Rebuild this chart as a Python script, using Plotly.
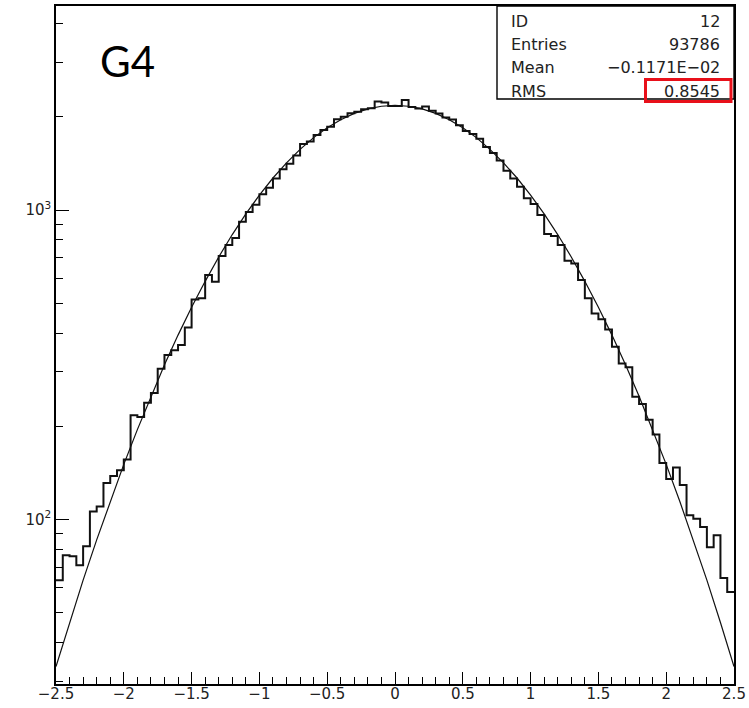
import numpy as np
import plotly.graph_objects as go

# Histogram definition: 100 bins between -2.5 and 2.5
X_MIN, X_MAX, N_BINS = -2.5, 2.5, 100

counts = [
    63.5, 76.5, 76, 71, 81.8, 106, 110, 131, 138, 144,
    156, 217, 214, 238, 256, 307, 340, 352, 366, 417,
    514, 518, 616, 586, 710, 770, 812, 917, 985, 1040,
    1125, 1180, 1265, 1355, 1410, 1500, 1635, 1664, 1748, 1815,
    1860, 1966, 2004, 2056, 2080, 2118, 2134, 2241, 2225, 2171,
    2171, 2270, 2155, 2130, 2160, 2095, 2050, 1990, 1960, 1880,
    1800, 1760, 1700, 1600, 1530, 1445, 1340, 1265, 1190, 1091,
    1045, 963, 836, 824, 770, 685, 672, 594, 518, 463,
    443, 411, 361, 319, 310, 249, 236, 210, 188, 152,
    135, 147, 129, 103, 100.5, 94.4, 81.2, 88.8, 64.6, 58.2,
]

# Fitted gaussian, sampled every 0.1 from -2.5 to 2.5
fit_x = [round(-2.5 + 0.1 * i, 2) for i in range(51)]
fit_half = [33.4, 46.4, 63.6, 85.8, 114.4, 150.5, 195, 250, 316, 394,
            485, 588, 705, 833, 971, 1117, 1269, 1421, 1571, 1714,
            1845, 1959, 2053, 2123, 2165]
fit_y = fit_half + [2180] + fit_half[::-1]

x_ticks = [-2.5, -2, -1.5, -1, -0.5, 0, 0.5, 1, 1.5, 2, 2.5]
x_tick_labels = ["\u22122.5", "\u22122", "\u22121.5", "\u22121", "\u22120.5",
                 "0", "0.5", "1", "1.5", "2", "2.5"]
x_minor = [round(-2.5 + 0.1 * i, 2) for i in range(51) if i % 5 != 0]
y_ticks = [100, 1000]
y_tick_labels = ["10<sup>2</sup>", "10<sup>3</sup>"]
y_minor = [30, 40, 50, 60, 70, 80, 90, 200, 300, 400, 500, 600, 700, 800, 900,
           2000, 3000, 4000]

stats_names = ["ID", "Entries", "Mean", "RMS"]
stats_values = ["12", "93786", "\u22120.1171E\u221202", "0.8545"]

edges = np.linspace(X_MIN, X_MAX, N_BINS + 1)
step_y = counts + [counts[-1]]

INK = "#111111"
TXT = "#222222"

fig = go.Figure()
fig.add_trace(go.Scatter(x=edges, y=step_y, mode="lines", line_shape="hv",
                         line=dict(color=INK, width=2), hoverinfo="skip",
                         showlegend=False))
fig.add_trace(go.Scatter(x=fit_x, y=fit_y, mode="lines",
                         line=dict(color=INK, width=1.2), hoverinfo="skip",
                         showlegend=False))

fig.update_layout(
    width=749, height=708,
    margin=dict(l=56, r=15, t=6, b=24, pad=0),
    paper_bgcolor="white", plot_bgcolor="white",
    font=dict(family="DejaVu Sans", color=TXT),
    showlegend=False,
)
fig.update_xaxes(
    range=[X_MIN, X_MAX], showgrid=False, zeroline=False, automargin=False,
    showline=True, linecolor="black", linewidth=1.6, mirror=True,
    ticks="inside", ticklen=12, tickwidth=1.3, tickcolor="black",
    tickmode="array", tickvals=x_ticks, ticktext=x_tick_labels,
    ticklabelstandoff=-5,
    tickfont=dict(family="DejaVu Sans", size=15, color=TXT),
    minor=dict(tickmode="array", tickvals=x_minor, ticks="inside",
               ticklen=7, tickwidth=1.3, tickcolor="black", showgrid=False),
)
fig.update_yaxes(
    type="log", range=[1.4675, 3.6596], showgrid=False, zeroline=False,
    automargin=False,
    showline=True, linecolor="black", linewidth=1.6, mirror=True,
    ticks="inside", ticklen=13, tickwidth=1.3, tickcolor="black",
    tickmode="array", tickvals=y_ticks, ticktext=y_tick_labels,
    tickfont=dict(family="DejaVu Sans", size=15, color=TXT),
    minor=dict(tickmode="array", tickvals=y_minor, ticks="inside",
               ticklen=7, tickwidth=1.3, tickcolor="black", showgrid=False),
)

# Statistics box in the upper right corner
W = 678.0
def px(xp):
    return (xp - 56) / W
def py(yp):
    return (684 - yp) / W

fig.add_shape(type="rect", xref="paper", yref="paper",
              x0=px(497), x1=1.0, y0=py(99), y1=1.0,
              line=dict(color="black", width=1.4), fillcolor="white")
rows_y = [21, 44, 67.5, 91]
for name, val, yy in zip(stats_names, stats_values, rows_y):
    fig.add_annotation(x=px(509), y=py(yy), xref="paper", yref="paper",
                       text=name, showarrow=False, xanchor="left",
                       yanchor="middle",
                       font=dict(family="DejaVu Sans", size=16, color=TXT))
    fig.add_annotation(x=px(722), y=py(yy), xref="paper", yref="paper",
                       text=val, showarrow=False, xanchor="right",
                       yanchor="middle",
                       font=dict(family="DejaVu Sans", size=16, color=TXT))

# Highlight around the RMS value
fig.add_shape(type="rect", xref="paper", yref="paper",
              x0=px(645.5), x1=px(731), y0=py(101.5), y1=py(79.5),
              line=dict(color="#e8101a", width=3))

fig.add_annotation(x=px(127), y=py(61), xref="paper", yref="paper",
                   text="G4", showarrow=False, xanchor="center",
                   yanchor="middle",
                   font=dict(family="Lato", size=42, color="black"))

fig.write_html("out.html")
